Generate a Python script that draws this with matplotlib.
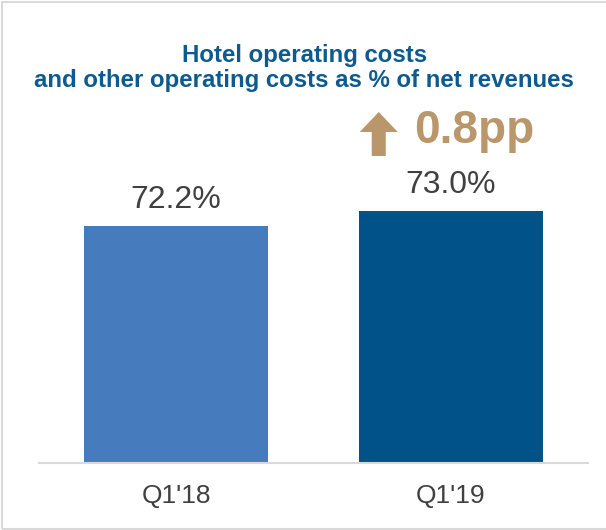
"""
Hotel operating costs as % of net revenues - Q1'18 vs Q1'19
"""

import matplotlib
matplotlib.use("Agg")
import matplotlib.pyplot as plt
from matplotlib.patches import Polygon, Rectangle
from matplotlib.transforms import Affine2D

# dados
quarters = ["Q1'18", "Q1'19"]
pct_values = [72.2, 73.0]
change_label = "0.8pp"
title = "Hotel operating costs\nand other operating costs as % of net revenues"

bar_colors = ["#467CBE", "#02528A"]
title_color = "#0D5A8E"
accent_color = "#B9976A"
text_color = "#404040"
grid_color = "#D9D9D9"


def main() -> None:
    plt.rcParams["font.family"] = ["Liberation Sans", "DejaVu Sans"]

    W, H = 606, 530
    fig = plt.figure(figsize=(W / 100, H / 100), dpi=100)

    # ------------------------------------------------------------------
    # eixos posicionados manualmente
    # ------------------------------------------------------------------
    ax_left, ax_right = 39, 588
    ax_bottom, ax_top = 463, 100
    ax = fig.add_axes([
        ax_left / W,
        (H - ax_bottom) / H,
        (ax_right - ax_left) / W,
        (ax_bottom - ax_top) / H,
    ])

    x = list(range(len(quarters)))
    ax.bar(x, pct_values, width=0.67, color=bar_colors, zorder=2)
    ax.set_xlim(-0.5, len(quarters) - 0.5)
    ax.set_ylim(59.56, 59.56 + (ax_bottom - ax_top) / 18.75)

    # rótulos de valor
    for xi, v in zip(x, pct_values):
        ax.annotate(
            f"{v:.1f}%",
            xy=(xi, v),
            xytext=(0, 18),
            textcoords="offset pixels",
            ha="center",
            va="baseline",
            fontsize=23,
            color=text_color,
        )

    # variação (0.8pp) com seta
    ax.annotate(
        change_label,
        xy=(x[-1], pct_values[-1]),
        xytext=(-37, 68),
        textcoords="offset pixels",
        ha="left",
        va="baseline",
        fontsize=33,
        fontweight="bold",
        color=accent_color,
    )

    # eixo
    for side in ["top", "right", "left"]:
        ax.spines[side].set_visible(False)
    ax.spines["bottom"].set_color(grid_color)
    ax.spines["bottom"].set_linewidth(1.5)
    ax.set_yticks([])
    ax.set_xticks(x)
    ax.set_xticklabels(quarters, fontsize=19, color=text_color)
    ax.tick_params(axis="x", length=0, pad=15)

    fig.text(
        0.502, 1 - 68 / H, title,
        ha="center", va="center",
        fontsize=17.3, fontweight="bold", color=title_color,
        linespacing=1.13,
    )

    # seta desenhada em pixels, ancorada na barra Q1'19
    fig.canvas.draw()
    px, py = ax.transData.transform((x[-1], pct_values[-1]))
    tip_x, tip_y = px - 72, py + 99
    arrow = [
        (0, 0), (19, -20), (7, -20), (7, -44),
        (-7, -44), (-7, -20), (-19, -20),
    ]
    fig.patches.append(Polygon(
        arrow, closed=True, facecolor=accent_color, edgecolor="none",
        transform=Affine2D().translate(tip_x, tip_y),
    ))

    # moldura (lado direito fora da imagem)
    fig.patches.append(Rectangle(
        (2 / W, 1 / H), 1.0, 1 - 3 / H,
        transform=fig.transFigure, fill=False,
        edgecolor=grid_color, linewidth=1.5,
    ))

    fig.savefig("out.png", dpi=100)
    plt.close(fig)


if __name__ == "__main__":
    main()
